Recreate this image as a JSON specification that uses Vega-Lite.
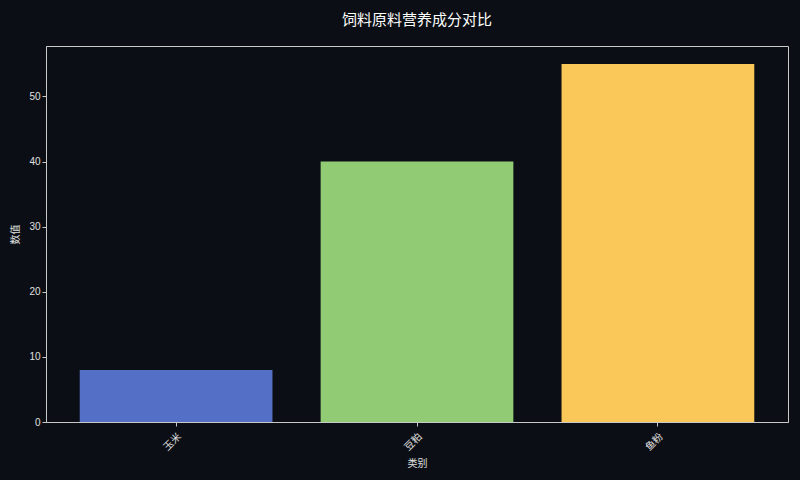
{
  "$schema": "https://vega.github.io/schema/vega-lite/v6.json",
  "description": "Feed ingredient nutrition comparison bar chart",
  "autosize": "none",
  "width": 742,
  "height": 376,
  "padding": {"left": 46, "top": 46, "right": 12, "bottom": 58},
  "background": "#0b0e14",
  "title": {
    "text": "饲料原料营养成分对比",
    "font": "Noto Sans CJK SC",
    "fontSize": 15,
    "fontWeight": "normal",
    "color": "#ffffff",
    "anchor": "middle",
    "offset": 18
  },
  "data": {
    "values": [
      {"category": "玉米", "value": 8},
      {"category": "豆粕", "value": 40},
      {"category": "鱼粉", "value": 55}
    ]
  },
  "config": {
    "view": {"stroke": "#c8c8c8", "strokeWidth": 1},
    "axis": {
      "labelFont": "Liberation Sans, Noto Sans CJK SC",
      "titleFont": "Noto Sans CJK SC",
      "labelColor": "#e0e0e0",
      "titleColor": "#e0e0e0",
      "labelFontSize": 10,
      "titleFontSize": 10,
      "titleFontWeight": "normal",
      "domainColor": "#c8c8c8",
      "tickColor": "#c8c8c8",
      "tickSize": 4,
      "grid": false
    }
  },
  "mark": {"type": "bar"},
  "encoding": {
    "x": {
      "field": "category",
      "type": "nominal",
      "sort": null,
      "title": "类别",
      "scale": {"paddingInner": 0.2, "paddingOuter": 0.14},
      "axis": {"labelAngle": -45, "labelAlign": "right", "labelBaseline": "top", "labelPadding": 5, "titlePadding": 6}
    },
    "y": {
      "field": "value",
      "type": "quantitative",
      "title": "数值",
      "scale": {"domain": [0, 57.75], "nice": false},
      "axis": {"values": [0, 10, 20, 30, 40, 50], "titlePadding": 8}
    },
    "color": {
      "field": "category",
      "type": "nominal",
      "sort": null,
      "scale": {"domain": ["玉米", "豆粕", "鱼粉"], "range": ["#5470c6", "#91cc75", "#fac858"]},
      "legend": null
    }
  }
}
